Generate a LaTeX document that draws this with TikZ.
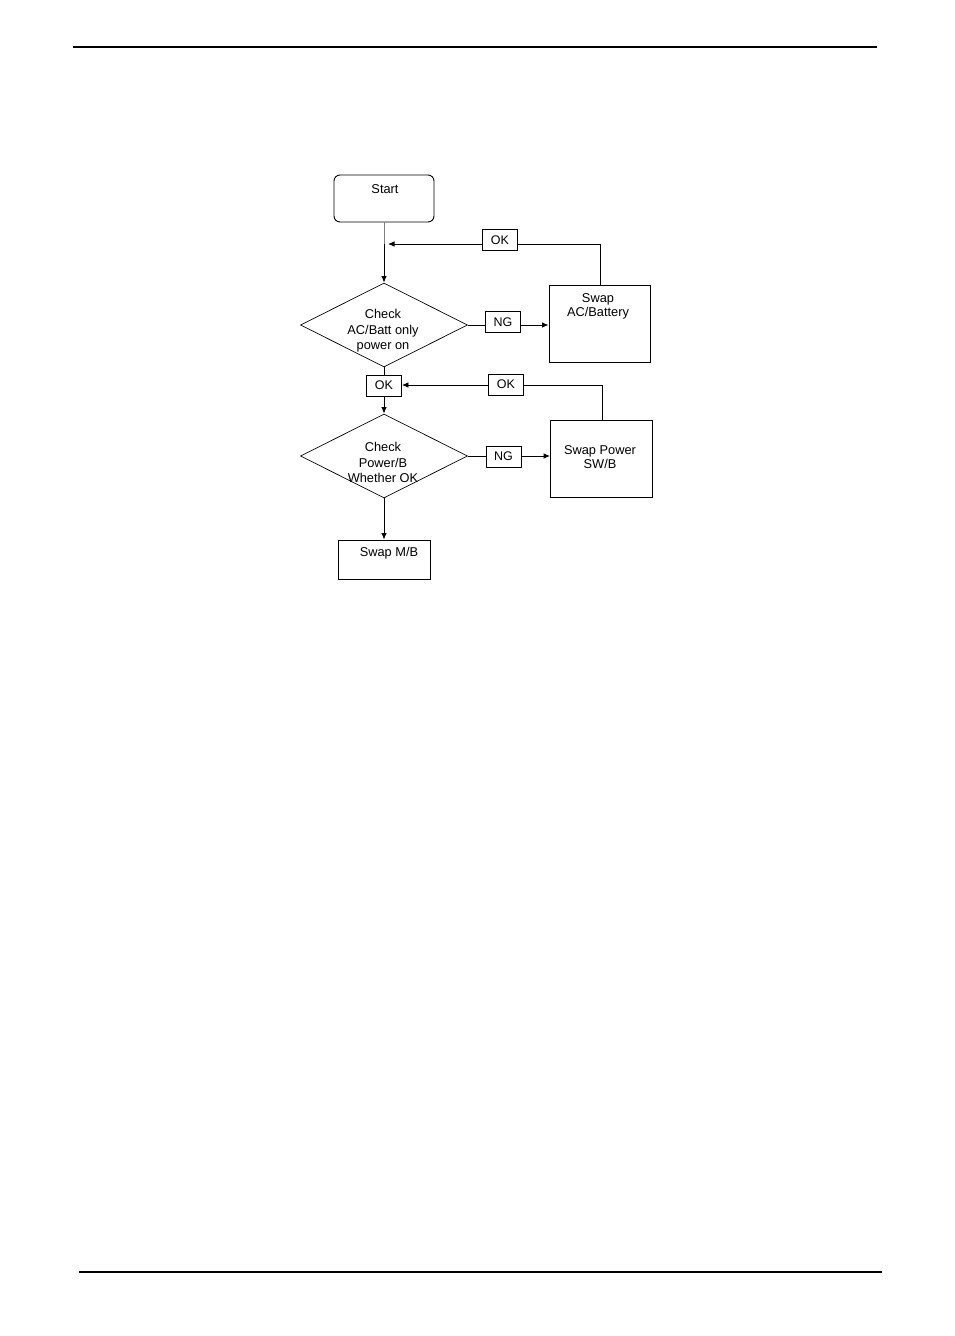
\documentclass[tikz,border=0pt]{standalone}
\usepackage{fontspec}
\setmainfont{Liberation Sans}
\usetikzlibrary{shapes.geometric,arrows.meta}
\begin{document}
\begin{tikzpicture}[x=1pt,y=-1pt,
  box/.style={draw, line width=0.9pt, inner sep=0pt},
  lbl/.style={draw, line width=0.9pt, minimum width=35pt, minimum height=21pt, inner sep=0pt, font=\fontsize{12.5}{15}\selectfont},
  txt/.style={align=center, inner sep=0pt, font=\fontsize{12.8}{15.5}\selectfont},
  dia/.style={draw, diamond, line width=0.7pt, inner sep=0pt, minimum width=167pt, minimum height=84pt},
  conn/.style={line width=0.9pt},
  arr/.style={conn, -{Latex[length=6.5pt,width=5.5pt]}},
  rule/.style={line width=1.4pt}]
\useasboundingbox (0,0) rectangle (954,1336);
% page rules
\coordinate (tl) at (73,47);  \coordinate (tr) at (877,47);
\coordinate (bl) at (79,1272); \coordinate (br) at (882,1272);
\draw[rule] (tl) -- (tr);
\draw[rule] (bl) -- (br);
% Start
\node[box, rounded corners=6pt, minimum width=100pt, minimum height=47pt] (start) at (384,198.5) {};
\node[txt] (startt) at (385,189) {Start};
% Diamond 1
\node[dia] (d1) at (384,325) {};
\node[txt] (d1t) at (383,331) {Check\\AC/Batt only\\power on};
% Swap AC/Battery
\node[box, minimum width=101pt, minimum height=77pt] (sac) at (599.5,323.5) {};
\node[txt, font=\fontsize{12.8}{14.5}\selectfont] (sact) at (598,306.5) {Swap\\AC/Battery};
% OK top label
\node[lbl] (ok1) at (500,240) {OK};
% NG 1
\node[lbl] (ng1) at (503,322) {NG};
% OK below diamond 1
\node[lbl] (ok2) at (384,385.5) {OK};
% OK return 2
\node[lbl] (ok3) at (506,384.5) {OK};
% Diamond 2
\node[dia] (d2) at (384,456) {};
\node[txt] (d2t) at (383,462.5) {Check\\Power/B\\Whether OK};
% NG 2
\node[lbl] (ng2) at (503.5,456.5) {NG};
% Swap Power SW/B
\node[box, minimum width=102pt, minimum height=77pt] (spw) at (601.5,459) {};
\node[txt, font=\fontsize{12.8}{14.5}\selectfont] (spwt) at (600,457) {Swap Power\\SW/B};
% Swap M/B
\node[box, minimum width=92pt, minimum height=39pt] (smb) at (384,559.5) {};
\node[txt] (smbt) at (389,553) {Swap M/B};
% connectors
\coordinate (j1) at (384,244);
\coordinate (c1) at (600,244);
\coordinate (c2) at (602,385);
\draw[conn, draw=gray] (start.south) -- (j1);
\draw[arr] (j1) -- (d1.north);
\draw[conn] (sac.north -| c1) -- (c1) -- (c1 -| ok1.east);
\draw[arr] (c1 -| ok1.west) -- ([xshift=4pt]j1);
\draw[conn] (d1.east) -- (d1.east -| ng1.west);
\draw[arr] (d1.east -| ng1.east) -- (d1.east -| sac.west);
\draw[conn] (d1.south) -- (ok2.north);
\draw[arr] (ok2.south) -- (d2.north);
\draw[conn] (spw.north -| c2) -- (c2) -- (c2 -| ok3.east);
\draw[arr] (c2 -| ok3.west) -- (c2 -| ok2.east);
\draw[conn] (d2.east) -- (d2.east -| ng2.west);
\draw[arr] (d2.east -| ng2.east) -- (d2.east -| spw.west);
\draw[arr] (d2.south) -- (smb.north);
\end{tikzpicture}
\end{document}
